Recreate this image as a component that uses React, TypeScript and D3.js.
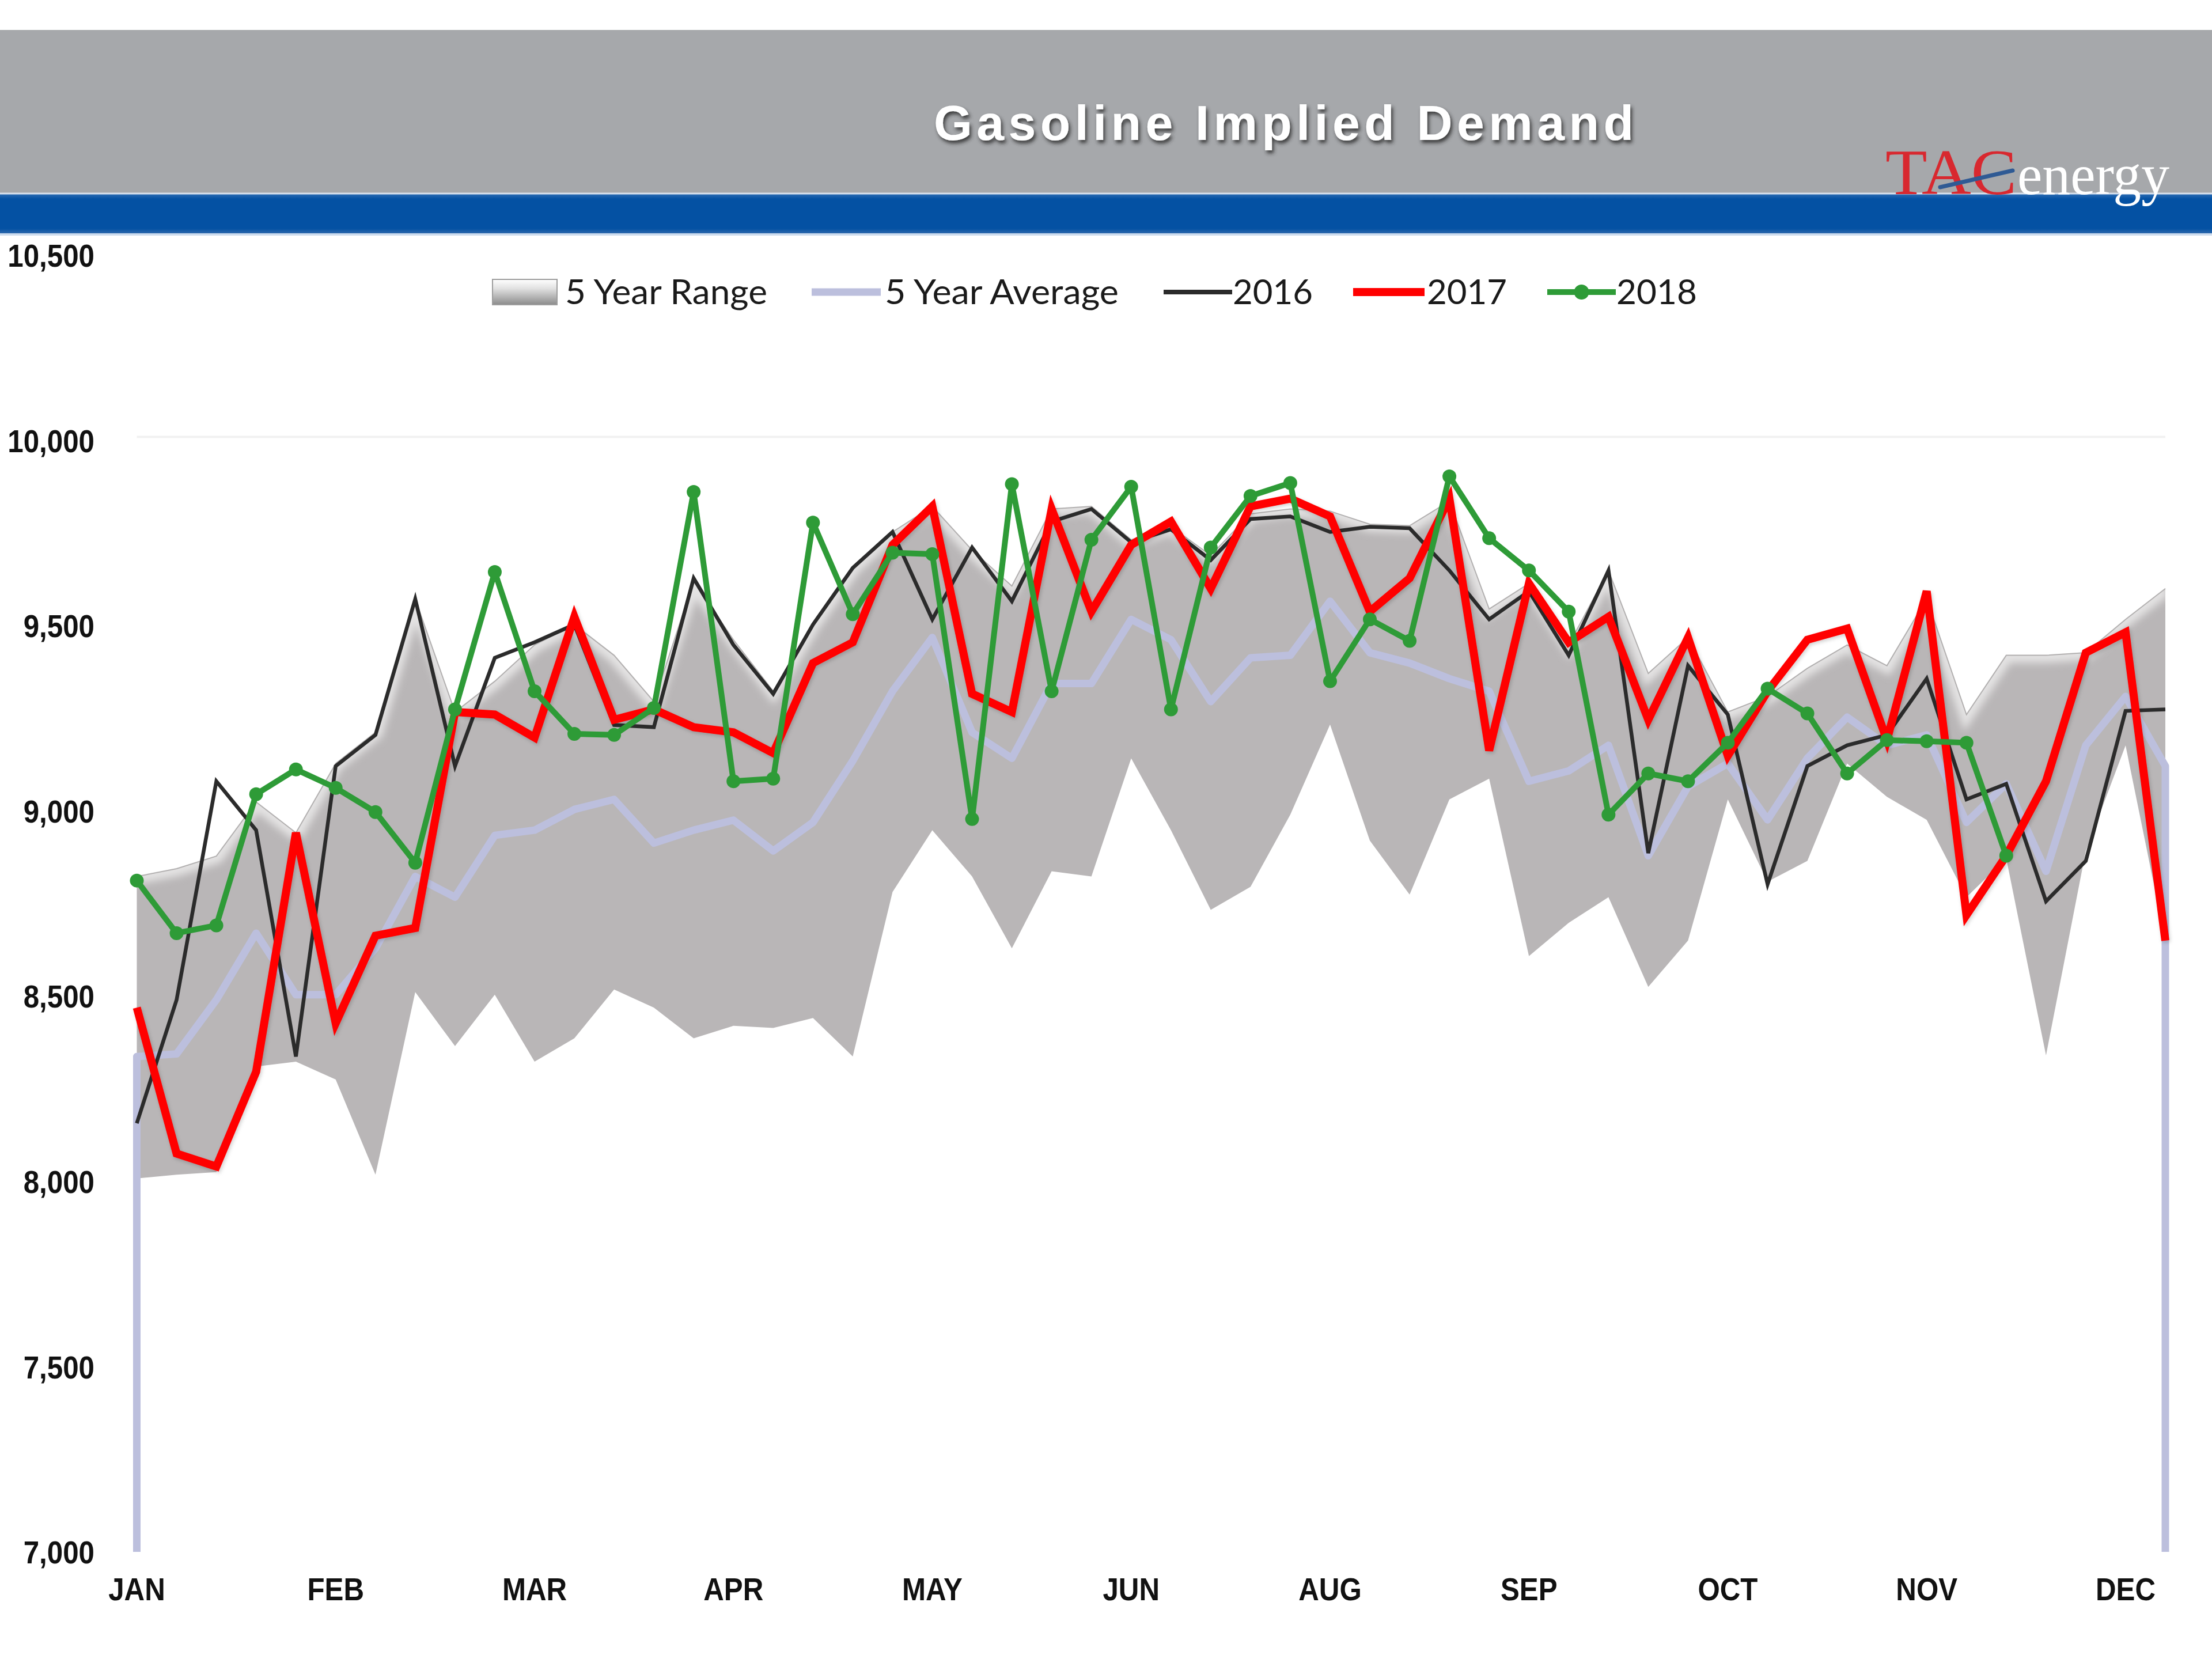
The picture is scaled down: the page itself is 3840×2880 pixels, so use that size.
import React from 'react';
import * as d3 from 'd3';

// ---------- DATA ----------
const weeks: number[] = Array.from({ length: 52 }, (_, i) => i + 1);

const monthLabels = ['JAN', 'FEB', 'MAR', 'APR', 'MAY', 'JUN', 'AUG', 'SEP', 'OCT', 'NOV', 'DEC'];
const monthLabelWeeks = [1, 6, 11, 16, 21, 26, 31, 36, 41, 46, 51];
const yTicks = [7000, 7500, 8000, 8500, 9000, 9500, 10000, 10500];

const rangeHigh = [
  8823, 8844, 8878, 9024, 8941, 9128, 9212, 9572, 9267, 9350,
  9448, 9503, 9420, 9295, 9620, 9462, 9323, 9503, 9656, 9753,
  9822, 9704, 9607, 9815, 9822, 9732, 9767, 9690, 9802, 9815,
  9809, 9774, 9770, 9836, 9545, 9614, 9448, 9649, 9371, 9468,
  9267, 9309, 9385, 9448, 9392, 9573, 9260, 9420, 9420, 9427,
  9517, 9600,
];
const rangeLow = [
  8008, 8018, 8025, 8310, 8323, 8275, 8018, 8511, 8365, 8504,
  8323, 8386, 8518, 8469, 8386, 8420, 8414, 8441, 8337, 8781,
  8948, 8823, 8629, 8837, 8823, 9142, 8948, 8733, 8795, 8990,
  9233, 8920, 8774, 9031, 9087, 8608, 8698, 8767, 8525, 8650,
  9031, 8809, 8865, 9128, 9038, 8976, 8767, 8872, 8340, 8892,
  9177, 8650,
];
const avg5 = [
  8337, 8344, 8490, 8670, 8504, 8504, 8629, 8823, 8767, 8934,
  8948, 9004, 9031, 8913, 8948, 8975, 8892, 8969, 9135, 9323,
  9468, 9212, 9142, 9344, 9344, 9517, 9462, 9295, 9413, 9420,
  9566, 9427, 9399, 9357, 9323, 9080, 9108, 9177, 8879, 9066,
  9128, 8976, 9142, 9253, 9177, 9205, 8969, 9073, 8837, 9177,
  9309, 9121,
];
const y2016 = [
  8157, 8490, 9080, 8948, 8337, 9121, 9205, 9572, 9121, 9413,
  9455, 9503, 9232, 9226, 9628, 9448, 9316, 9503, 9656, 9753,
  9517, 9711, 9566, 9781, 9815, 9725, 9760, 9677, 9788, 9795,
  9753, 9767, 9763, 9649, 9517, 9593, 9420, 9649, 8886, 9392,
  9260, 8802, 9121, 9177, 9205, 9357, 9031, 9073, 8756, 8865,
  9270, 9274,
];
const y2017 = [
  8469, 8075, 8040, 8296, 8941, 8427, 8663, 8684, 9267, 9260,
  9198, 9524, 9246, 9274, 9226, 9212, 9156, 9399, 9455, 9718,
  9822, 9316, 9267, 9815, 9538, 9718, 9781, 9600, 9822, 9843,
  9795, 9538, 9628, 9843, 9163, 9614, 9455, 9524, 9246, 9468,
  9149, 9323, 9462, 9492, 9191, 9593, 8719, 8879, 9080, 9427,
  9482, 8650,
];
const y2018 = [
  8812, 8670, 8691, 9045, 9112, 9062, 8997, 8860, 9274, 9645,
  9323, 9208, 9205, 9278, 9861, 9080, 9087, 9778, 9531, 9697,
  9693, 8978, 9882, 9323, 9732, 9875, 9274, 9711, 9850, 9885,
  9350, 9517, 9459, 9903, 9736, 9649, 9538, 8990, 9101, 9080,
  9184, 9330, 9263, 9101, 9191, 9188, 9184, 8879,
];

// ---------- LAYOUT ----------
const W = 3840;
const H = 2880;
const COLORS = {
  header: '#a6a8ab',
  blue: '#0451a3',
  band: '#b9b6b7',
  avg: '#bcbfdd',
  s2016: '#2b2b2b',
  s2017: '#ff0000',
  s2018: '#2e9b37',
  logoRed: '#d8282f',
};

const x = d3.scalePoint<number>().domain(weeks).range([237.5, 3759]);
const y = d3.scaleLinear().domain([7000, 10500]).range([2694, 443]);
const fmt = d3.format(',');

const bandArea = d3
  .area<number>()
  .x((w) => x(w)!)
  .y0((_, i) => y(rangeLow[i]))
  .y1((_, i) => y(rangeHigh[i]));
const bandTop = d3
  .line<number>()
  .x((w) => x(w)!)
  .y((_, i) => y(rangeHigh[i]));

const seriesLine = (vals: number[]) =>
  d3
    .line<number>()
    .x((_, i) => x(weeks[i])!)
    .y((v) => y(v))(vals) || '';

const base = y.domain()[0];
const avgPts: [number, number][] = [
  [x(weeks[0])!, y(base)],
  ...avg5.map((v, i) => [x(weeks[i])!, y(v)] as [number, number]),
  [x(weeks[weeks.length - 1])!, y(base)],
];
const avgPath = d3.line<[number, number]>()(avgPts) || '';

const legendItems = [
  { key: 'range', label: '5 Year Range', sx: 855, sw: 112, tx: 981, tw: 351 },
  { key: 'avg', label: '5 Year Average', sx: 1409, sw: 120, tx: 1536, tw: 406 },
  { key: '2016', label: '2016', sx: 2020, sw: 119, tx: 2140, tw: 139 },
  { key: '2017', label: '2017', sx: 2349, sw: 124, tx: 2477, tw: 139 },
  { key: '2018', label: '2018', sx: 2686, sw: 119, tx: 2806, tw: 140 },
];

export default function App() {
  const x0 = x(weeks[0])!;
  const x1 = x(weeks[weeks.length - 1])!;
  const legendY = 507;
  return (
    <svg
      width={W}
      height={H}
      viewBox={`0 0 ${W} ${H}`}
      style={{ position: 'absolute', left: 0, top: 0, background: '#fff' }}
    >
      <defs>
        <filter id="soft" x="-5%" y="-20%" width="110%" height="140%">
          <feGaussianBlur stdDeviation="7" />
        </filter>
        <filter id="axisShadow" x="-2%" y="-200%" width="104%" height="500%">
          <feGaussianBlur stdDeviation="4" />
        </filter>
        <filter id="tshadow" x="-5%" y="-30%" width="110%" height="170%">
          <feDropShadow dx="3" dy="5" stdDeviation="3" floodColor="#2a2a2a" floodOpacity="0.85" />
        </filter>
        <filter id="lineShadow" x="-2%" y="-10%" width="104%" height="120%">
          <feDropShadow dx="2" dy="3" stdDeviation="3" floodColor="#000" floodOpacity="0.18" />
        </filter>
        <clipPath id="bandClip">
          <path d={bandArea(weeks) || ''} />
        </clipPath>
        <linearGradient id="swatchGrad" x1="0" y1="0" x2="0" y2="1">
          <stop offset="0%" stopColor="#ffffff" />
          <stop offset="35%" stopColor="#e2e2e2" />
          <stop offset="100%" stopColor="#8c8c8c" />
        </linearGradient>
        <linearGradient id="blueGrad" x1="0" y1="0" x2="0" y2="1">
          <stop offset="0%" stopColor="#2c6cb3" />
          <stop offset="12%" stopColor={COLORS.blue} />
          <stop offset="88%" stopColor={COLORS.blue} />
          <stop offset="100%" stopColor="#2d68ad" />
        </linearGradient>
      </defs>

      <rect x={0} y={0} width={W} height={H} fill="#ffffff" />

      {/* Header */}
      <rect x={0} y={52} width={W} height={285} fill={COLORS.header} />
      <rect x={0} y={337} width={W} height={68} fill="url(#blueGrad)" />
      <line x1={0} x2={W} y1={336} y2={336} stroke="#d9e2ee" strokeWidth={3} />
      <line x1={0} x2={W} y1={407} y2={407} stroke="#cddcee" strokeWidth={4} />

      <text
        x={1621}
        y={243}
        textLength={1215}
        lengthAdjust="spacing"
        fontFamily="'Liberation Sans', Arial, sans-serif"
        fontWeight="bold"
        fontSize={86}
        fill="#ffffff"
        filter="url(#tshadow)"
      >
        Gasoline Implied Demand
      </text>

      {/* Logo */}
      <text
        x={3273}
        y={337}
        textLength={228}
        lengthAdjust="spacingAndGlyphs"
        fontFamily="'Liberation Serif', 'DejaVu Serif', serif"
        fontSize={112}
        fill={COLORS.logoRed}
      >
        TAC
      </text>
      <line x1={3368} y1={325} x2={3494} y2={296} stroke="#2f5a94" strokeWidth={7} strokeLinecap="round" />
      <text
        x={3502}
        y={337}
        textLength={264}
        lengthAdjust="spacingAndGlyphs"
        fontFamily="'Liberation Serif', 'DejaVu Serif', serif"
        fontSize={100}
        fill="#ffffff"
      >
        energy
      </text>

      {/* Legend */}
      {legendItems.map((it) => (
        <g key={it.key}>
          {it.key === 'range' && (
            <rect
              x={it.sx}
              y={legendY - 22}
              width={it.sw}
              height={44}
              fill="url(#swatchGrad)"
              stroke="#9d9d9d"
              strokeWidth={2}
            />
          )}
          {it.key === 'avg' && (
            <line x1={it.sx} x2={it.sx + it.sw} y1={legendY} y2={legendY} stroke={COLORS.avg} strokeWidth={13} />
          )}
          {it.key === '2016' && (
            <line x1={it.sx} x2={it.sx + it.sw} y1={legendY} y2={legendY} stroke={COLORS.s2016} strokeWidth={8} />
          )}
          {it.key === '2017' && (
            <line x1={it.sx} x2={it.sx + it.sw} y1={legendY} y2={legendY} stroke={COLORS.s2017} strokeWidth={14} />
          )}
          {it.key === '2018' && (
            <>
              <line x1={it.sx} x2={it.sx + it.sw} y1={legendY} y2={legendY} stroke={COLORS.s2018} strokeWidth={10} />
              <circle cx={it.sx + it.sw / 2} cy={legendY} r={13} fill={COLORS.s2018} />
            </>
          )}
          <text
            x={it.tx}
            y={legendY + 21}
            textLength={it.tw}
            lengthAdjust="spacingAndGlyphs"
            fontFamily="Lato, 'Open Sans', sans-serif"
            fontSize={60}
            fill="#1a1a1a"
          >
            {it.label}
          </text>
        </g>
      ))}

      {/* Y axis labels */}
      {yTicks.map((t) => (
        <g key={t} transform={`translate(164, ${y(t)}) scale(0.88, 1)`}>
          <text
            x={0}
            y={0}
            dy="0.36em"
            textAnchor="end"
            fontFamily="'Liberation Sans', Arial, sans-serif"
            fontWeight="bold"
            fontSize={56}
            fill="#111"
          >
            {fmt(t)}
          </text>
        </g>
      ))}

      {/* Plot */}
      <line x1={x0} x2={x1} y1={y(10000) - 6} y2={y(10000) - 6} stroke="#f1f1f1" strokeWidth={4} />
      <path d={bandArea(weeks) || ''} fill={COLORS.band} />
      <g clipPath="url(#bandClip)">
        <path d={bandTop(weeks) || ''} fill="none" stroke="#e4e3e3" strokeWidth={26} filter="url(#soft)" />
      </g>
      <path d={bandTop(weeks) || ''} fill="none" stroke="#9b9999" strokeWidth={2} opacity={0.7} />

      <line
        x1={x0}
        x2={x1}
        y1={y(base)}
        y2={y(base)}
        stroke="#c9c9c9"
        strokeWidth={12}
        filter="url(#axisShadow)"
      />

      <path d={avgPath} fill="none" stroke={COLORS.avg} strokeWidth={13} strokeLinejoin="round" />
      <path d={seriesLine(y2016)} fill="none" stroke={COLORS.s2016} strokeWidth={6.5} strokeLinejoin="miter" />
      <path
        d={seriesLine(y2017)}
        fill="none"
        stroke={COLORS.s2017}
        strokeWidth={14}
        strokeLinejoin="miter"
        filter="url(#lineShadow)"
      />
      <path d={seriesLine(y2018)} fill="none" stroke={COLORS.s2018} strokeWidth={10} strokeLinejoin="round" />
      {y2018.map((v, i) => (
        <circle key={i} cx={x(weeks[i])!} cy={y(v)} r={12} fill={COLORS.s2018} />
      ))}

      {/* X axis labels */}
      {monthLabels.map((m, i) => (
        <g key={m} transform={`translate(${x(monthLabelWeeks[i])!}, 2778) scale(0.88, 1)`}>
          <text
            x={0}
            y={0}
            textAnchor="middle"
            fontFamily="'Liberation Sans', Arial, sans-serif"
            fontWeight="bold"
            fontSize={56}
            fill="#111"
          >
            {m}
          </text>
        </g>
      ))}
    </svg>
  );
}
